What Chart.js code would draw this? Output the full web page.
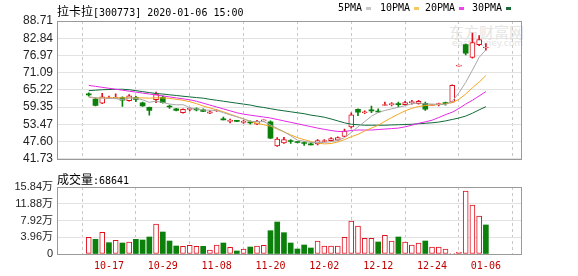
<!DOCTYPE html>
<html>
<head>
<meta charset="utf-8">
<script src="https://cdn.jsdelivr.net/npm/chart.js@4.4.1/dist/chart.umd.min.js"></script>
<style>
body { margin: 0; background: #fff; }
#wrap { position: relative; width: 578px; height: 276px; overflow: hidden; background: #fff; }
canvas { position: absolute; left: 0; }
#price { top: 0; }
#vol { top: 170px; }
.txt { position: absolute; font: 10px 'DejaVu Sans Mono', monospace; color: #000; white-space: nowrap; }
.cjk { font: 12px 'Noto Sans CJK SC'; }
.sw { position: absolute; width: 5px; height: 3px; }
.wm { position: absolute; color: #e4e4e4; white-space: nowrap; }
</style>
</head>
<body>
<div id="wrap">
  <div class="wm" style="left:449px;top:21px;font:15px 'Noto Sans CJK SC'">东方财富网</div>
  <div class="wm" style="left:452px;top:38px;font:9px 'DejaVu Sans'">eastmoney.com</div>
  <canvas id="price" width="578" height="170"></canvas>
  <canvas id="vol" width="578" height="106"></canvas>
  <div class="txt" style="left:57px;top:2px"><span class="cjk">拉卡拉</span>[300773] 2020-01-06 15:00</div>
  <div id="legend"></div>
  <div class="txt" style="left:57px;top:170px"><span class="cjk">成交量</span>:68641</div>
</div>
<script>
const dates = ['10-14','10-15','10-16','10-17','10-18','10-21','10-22','10-23','10-24','10-25','10-28','10-29','10-30','10-31',
  '11-01','11-04','11-05','11-06','11-07','11-08','11-11','11-12','11-13','11-14','11-15','11-18','11-19','11-20','11-21','11-22',
  '11-25','11-26','11-27','11-28','11-29','12-02','12-03','12-04','12-05','12-06','12-09','12-10','12-11','12-12','12-13','12-16',
  '12-17','12-18','12-19','12-20','12-23','12-24','12-25','12-26','12-27','12-30','12-31','01-02','01-03','01-06'];
const tickDates = ['10-17','10-29','11-08','11-20','12-02','12-12','12-24','01-06'];

const openP  = [63.70,62.10,60.70,62.24,62.34,62.57,61.52,62.67,60.80,59.30,61.85,62.67,59.56,58.74,57.43,58.58,58.58,58.41,57.27,58.03,
  55.14,54.49,54.65,54.16,54.16,53.51,54.65,54.32,46.08,47.13,47.78,47.45,47.13,46.64,46.80,47.62,47.94,48.11,49.35,52.62,
  58.58,57.43,58.25,57.86,59.89,60.21,60.38,60.21,60.87,60.54,60.60,59.89,60.21,60.70,61.03,73.30,80.66,76.31,80.66,79.50];
const highP  = [64.20,62.50,64.07,63.15,63.88,62.83,63.65,62.99,61.03,59.40,64.47,63.16,60.05,58.90,58.74,59.23,59.07,58.74,58.09,58.41,
  55.96,55.31,54.81,54.81,54.65,54.81,54.98,54.65,48.93,49.09,48.27,47.62,47.62,47.29,48.27,48.27,48.93,49.25,51.87,57.43,
  58.74,58.09,59.72,58.74,61.03,60.87,61.03,61.36,61.69,61.69,61.03,60.21,60.70,61.03,66.92,73.40,80.83,84.59,83.70,80.99];
const lowP   = [63.10,59.72,60.54,62.24,62.34,59.56,61.36,61.19,59.56,56.62,60.87,60.70,58.90,58.09,57.27,58.09,58.09,57.76,57.11,57.92,
  54.98,54.00,54.40,53.83,53.51,53.35,54.49,48.60,45.98,46.96,46.96,47.13,46.31,46.48,46.48,47.45,47.78,47.94,49.25,52.20,
  56.45,57.11,57.43,57.43,59.89,59.72,59.40,60.05,60.38,60.38,58.25,59.89,59.72,60.05,60.87,73.30,77.16,76.08,80.33,78.80];
const closeP = [63.50,59.95,62.83,62.40,62.50,61.69,63.22,62.01,59.72,58.25,63.81,60.87,59.40,58.25,58.58,58.74,58.41,57.92,57.76,58.25,
  54.98,54.65,54.49,54.32,54.00,54.49,54.81,48.77,48.44,48.27,47.62,47.29,46.96,46.48,47.94,47.94,48.60,48.93,51.22,56.68,
  57.60,57.60,58.09,57.70,60.05,60.38,60.21,60.87,61.03,61.36,58.64,60.05,60.38,60.54,66.82,73.40,77.72,81.32,82.40,79.66];

const ma5  = [62.90,62.50,62.40,62.30,62.24,61.87,62.53,62.36,61.83,60.98,61.40,60.93,60.41,60.12,60.18,59.17,58.68,58.38,58.28,58.22,
  57.46,56.71,56.03,55.34,54.49,54.39,54.42,53.28,52.10,50.96,49.58,48.08,47.72,47.32,47.26,47.32,47.58,47.98,48.93,50.67,
  52.61,54.41,56.24,57.53,58.21,58.76,59.29,59.84,60.51,60.77,60.42,60.39,60.29,60.19,61.29,64.23,67.77,71.95,76.33,78.89];
const ma10 = [62.67,62.50,62.50,62.50,62.50,62.50,62.50,62.50,62.50,62.40,62.50,62.50,62.34,62.01,61.69,61.19,60.54,59.72,59.07,58.41,
  57.76,56.94,56.12,55.31,54.49,53.83,53.34,52.85,51.87,50.89,49.91,48.93,48.27,47.62,47.13,46.80,46.96,47.45,48.27,49.25,
  50.07,51.22,52.20,53.18,54.49,55.80,56.94,58.09,58.91,59.56,59.89,60.05,60.21,60.44,60.87,62.01,63.81,65.94,67.90,70.09];
const ma20 = [66.76,66.43,66.10,65.78,65.45,65.12,64.79,64.47,64.14,63.81,63.49,63.16,62.83,62.50,62.18,61.85,61.36,60.70,60.05,59.40,
  58.74,58.09,57.43,56.94,56.61,56.29,55.96,55.63,55.14,54.65,54.16,53.67,53.18,52.69,52.20,51.77,51.38,51.05,51.05,51.38,
  51.54,51.54,51.54,51.71,51.87,52.03,52.20,52.62,53.18,53.83,54.32,54.88,55.80,56.78,57.60,58.91,60.38,61.69,63.16,64.63];
const ma30 = [64.96,65.12,65.28,65.35,65.41,65.45,65.28,64.96,64.63,64.30,63.98,63.81,63.55,63.32,63.06,62.83,62.60,62.40,62.01,61.69,
  61.36,61.03,60.70,60.38,60.05,59.56,59.23,58.81,58.41,58.09,57.76,57.43,57.11,56.62,56.29,55.90,55.31,54.65,54.00,53.51,
  53.34,53.18,53.18,53.18,53.18,53.28,53.34,53.41,53.51,53.67,53.83,54.00,54.26,54.65,55.14,55.63,56.29,57.27,58.41,59.49];

const volume = [39500,34700,51300,26800,32300,26000,28400,34700,33100,40200,70900,52000,30700,18900,18100,20500,18100,18100,9500,21300,
  26000,15800,7100,11800,16500,18900,20500,55100,75600,50400,26000,11800,21300,14200,30700,18900,18900,18900,39500,78000,
  66200,37100,37100,28400,44100,30700,40200,28400,21300,26000,30700,16500,16500,11800,1500,4700,149000,115800,89800,68641];
const volUp = [1,0,1,0,1,0,1,0,0,0,1,0,0,0,1,1,1,0,1,1,
  0,1,0,1,0,1,1,0,0,0,0,0,0,0,1,1,1,1,1,1,
  1,1,1,0,1,1,0,1,1,1,0,1,1,1,1,1,1,1,1,0];

const priceTicks = [41.73,47.60,53.47,59.35,65.22,71.09,76.97,82.84,88.71];
const volTicks = [0,39600,79200,118800,158400];

const maNames = ['5PMA','10PMA','20PMA','30PMA'];
const maColors = ['#a8a8a8','#f5a623','#e628e6','#106a3a'];
const swatchColors = ['#c8c8c8','#f7c860','#ee44ee','#1a6a3a'];
const RED = '#e0101e';
const GREEN = '#0b800b';

// legend row at top right
const legendX = [338, 380, 425, 472];
const lg = document.getElementById('legend');
maNames.forEach((n, k) => {
  const t = document.createElement('div');
  t.className = 'txt';
  t.style.left = legendX[k] + 'px';
  t.style.top = '2px';
  t.textContent = n;
  lg.appendChild(t);
  const s = document.createElement('div');
  s.className = 'sw';
  s.style.left = (legendX[k] + n.length * 6 + 4) + 'px';
  s.style.top = '7px';
  s.style.background = swatchColors[k];
  lg.appendChild(s);
});

const frame = {
  id: 'frame',
  afterDraw(chart) {
    const { ctx, chartArea: a } = chart;
    ctx.save();
    ctx.strokeStyle = '#9a9a9a';
    ctx.lineWidth = 1;
    ctx.strokeRect(Math.round(a.left) + 0.5, Math.round(a.top) + 0.5,
      Math.round(a.right - a.left) - 1, Math.round(a.bottom - a.top));
    ctx.restore();
  }
};

const idx = dates.map((d, i) => i);
const tickIdx = tickDates.map(d => dates.indexOf(d));
const upColor = i => closeP[i] >= openP[i];

function xAxis(showLabels) {
  return {
    type: 'linear', min: -0.4, max: 60.05,
    afterBuildTicks: ax => { ax.ticks = tickIdx.map(v => ({ value: v })); },
    grid: { color: '#c8c8c8', drawTicks: false },
    border: { display: false, dash: [3, 3] },
    ticks: {
      display: showLabels, autoSkip: false, maxRotation: 0, padding: 6,
      color: '#c00000', font: { family: "'DejaVu Sans Mono'", size: 10 },
      callback: v => dates[v]
    },
    afterFit: ax => { ax.height = showLabels ? 20 : 0; }
  };
}

new Chart(document.getElementById('price'), {
  data: {
    datasets: [
      ...[ma5, ma10, ma20, ma30].map((arr, k) => ({
        type: 'line', order: 0,
        data: idx.map(i => ({ x: i, y: arr[i] })),
        borderColor: maColors[k], borderWidth: 1, pointRadius: 0, tension: 0
      })),
      {
        type: 'bar', order: 1, grouped: false,
        data: idx.map(i => ({ x: i, y: [openP[i], closeP[i]] })),
        barThickness: 5, minBarLength: 1, borderSkipped: false,
        borderWidth: c => upColor(c.dataIndex) ? 1 : 0,
        borderColor: c => upColor(c.dataIndex) ? RED : GREEN,
        backgroundColor: c => upColor(c.dataIndex) ? '#fff' : GREEN
      },
      {
        type: 'bar', order: 2, grouped: false,
        data: idx.map(i => ({ x: i, y: [lowP[i], highP[i]] })),
        barThickness: 1, minBarLength: 1, borderWidth: 0,
        backgroundColor: c => upColor(c.dataIndex) ? RED : GREEN
      }
    ]
  },
  options: {
    responsive: false, devicePixelRatio: 1, animation: false,
    layout: { padding: { left: 0, right: 56, top: 21, bottom: 5 } },
    plugins: { legend: { display: false }, tooltip: { enabled: false } },
    scales: {
      x: xAxis(false),
      y: {
        min: 41.73, max: 88.71,
        afterBuildTicks: ax => { ax.ticks = priceTicks.map(v => ({ value: v })); },
        grid: { color: '#e2e2e2', drawTicks: false },
        border: { display: false },
        ticks: {
          padding: 4, color: '#222', autoSkip: false,
          font: { family: "'Liberation Sans'", size: 12 },
          callback: v => v.toFixed(2)
        },
        afterFit: ax => { ax.width = 57; }
      }
    }
  },
  plugins: [frame]
});

new Chart(document.getElementById('vol'), {
  type: 'bar',
  data: {
    datasets: [{
      data: idx.map(i => ({ x: i, y: volume[i] })),
      barThickness: 5, borderSkipped: false,
      borderWidth: c => volUp[c.dataIndex] ? 1 : 0,
      borderColor: c => volUp[c.dataIndex] ? RED : GREEN,
      backgroundColor: c => volUp[c.dataIndex] ? '#fff' : GREEN
    }]
  },
  options: {
    responsive: false, devicePixelRatio: 1, animation: false,
    layout: { padding: { left: 0, right: 56, top: 17, bottom: 2 } },
    plugins: { legend: { display: false }, tooltip: { enabled: false } },
    scales: {
      x: xAxis(true),
      y: {
        min: 0, max: 158400,
        afterBuildTicks: ax => { ax.ticks = volTicks.map(v => ({ value: v })); },
        grid: { color: '#e2e2e2', drawTicks: false },
        border: { display: false },
        ticks: {
          padding: 4, color: '#222', autoSkip: false,
          font: { family: "'Liberation Sans', 'Noto Sans CJK SC'", size: 11 },
          callback: v => v === 0 ? '0' : (v / 10000).toFixed(2) + '万'
        },
        afterFit: ax => { ax.width = 57; }
      }
    }
  },
  plugins: [frame]
});
</script>
</body>
</html>
